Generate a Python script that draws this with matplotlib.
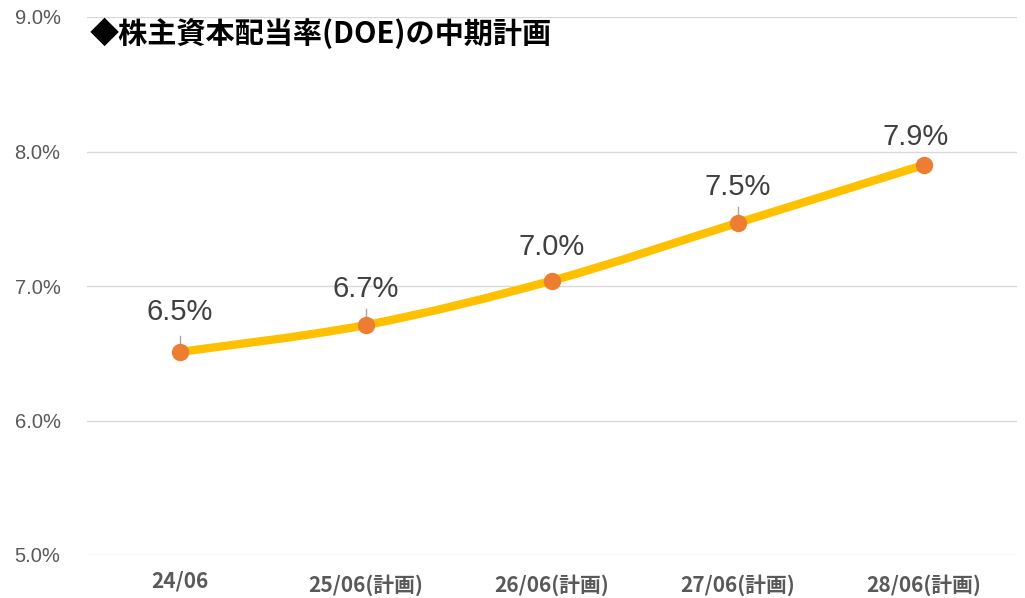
import matplotlib
matplotlib.use("Agg")
import matplotlib.pyplot as plt
from matplotlib.path import Path
from matplotlib.patches import PathPatch
from matplotlib.ticker import FuncFormatter
import numpy as np

categories = ["24/06", "25/06(計画)", "26/06(計画)", "27/06(計画)", "28/06(計画)"]
doe_values = [6.51, 6.71, 7.04, 7.47, 7.90]
doe_labels = ["6.5%", "6.7%", "7.0%", "7.5%", "7.9%"]
y_ticks = [5.0, 6.0, 7.0, 8.0, 9.0]
title = "◆株主資本配当率(DOE)の中期計画"

# label placement (offset in points from each marker)
label_offsets = [(0, 29), (0, 26), (0, 24.5), (0, 26), (-6, 20)]

fig = plt.figure(figsize=(10.25, 5.98), dpi=100)
ax = fig.add_axes([87 / 1025, 1 - 555 / 598, 930 / 1025, (555 - 17) / 598])

x = np.arange(len(categories))
y = np.array(doe_values)

# smooth curve (Excel-like Bezier smoothing) built from the data points
verts = [(x[0], y[0])]
codes = [Path.MOVETO]
n = len(x)
for i in range(n - 1):
    p0 = (x[i - 1], y[i - 1]) if i > 0 else (x[i], y[i])
    p1 = (x[i], y[i])
    p2 = (x[i + 1], y[i + 1])
    p3 = (x[i + 2], y[i + 2]) if i + 2 < n else (x[i + 1], y[i + 1])
    c1 = (p1[0] + (p2[0] - p0[0]) / 6, p1[1] + (p2[1] - p0[1]) / 6)
    c2 = (p2[0] - (p3[0] - p1[0]) / 6, p2[1] - (p3[1] - p1[1]) / 6)
    verts += [c1, c2, p2]
    codes += [Path.CURVE4] * 3
ax.add_patch(PathPatch(Path(verts, codes), facecolor="none", edgecolor="#FFC000",
                       linewidth=6, capstyle="round", joinstyle="round", zorder=3))
ax.plot(x, y, linestyle="none", marker="o", markersize=11.5, color="#ED7D31",
        markeredgecolor="#ED7D31", zorder=4)

# leader lines and data labels
for i, (xi, yi, lab) in enumerate(zip(x, y, doe_labels)):
    if i in (0, 1, 3):
        ax.plot([xi, xi], [yi + 0.03, yi + 0.12], color="#A6A6A6", linewidth=1, zorder=2)
    ax.annotate(lab, (xi, yi), xytext=label_offsets[i], textcoords="offset points",
                ha="center", va="center", fontsize=21, color="#404040",
                family=["Liberation Sans", "DejaVu Sans"])

ax.set_xlim(-0.5, n - 0.5)
ax.set_ylim(5.0, 9.0)
ax.set_yticks(y_ticks)
ax.yaxis.set_major_formatter(FuncFormatter(lambda v, p: f"{v:.1f}%"))
ax.set_xticks(x)
ax.set_xticklabels(categories)
ax.grid(axis="y", color="#D9D9D9", linewidth=1)
ax.set_axisbelow(True)
for s in ax.spines.values():
    s.set_visible(False)
ax.tick_params(axis="both", length=0)
ax.tick_params(axis="y", pad=19, labelcolor="#595959")
ax.tick_params(axis="x", pad=14, labelcolor="#595959")
for t in ax.get_yticklabels():
    t.set_family(["Liberation Sans", "DejaVu Sans"])
    t.set_fontsize(14.5)
for t in ax.get_xticklabels():
    t.set_family(["Liberation Sans Narrow", "Noto Sans CJK JP", "DejaVu Sans"])
    t.set_fontsize(15)
    t.set_fontweight("bold")
ax.get_xticklabels()[0].set_y(0.008)

fig.text(90 / 1025, 1 - 33 / 598, title, ha="left", va="center", fontsize=21,
         fontweight="bold", color="black", family=["Noto Sans CJK JP", "DejaVu Sans"])

fig.savefig("out.png", dpi=100, facecolor="white")
